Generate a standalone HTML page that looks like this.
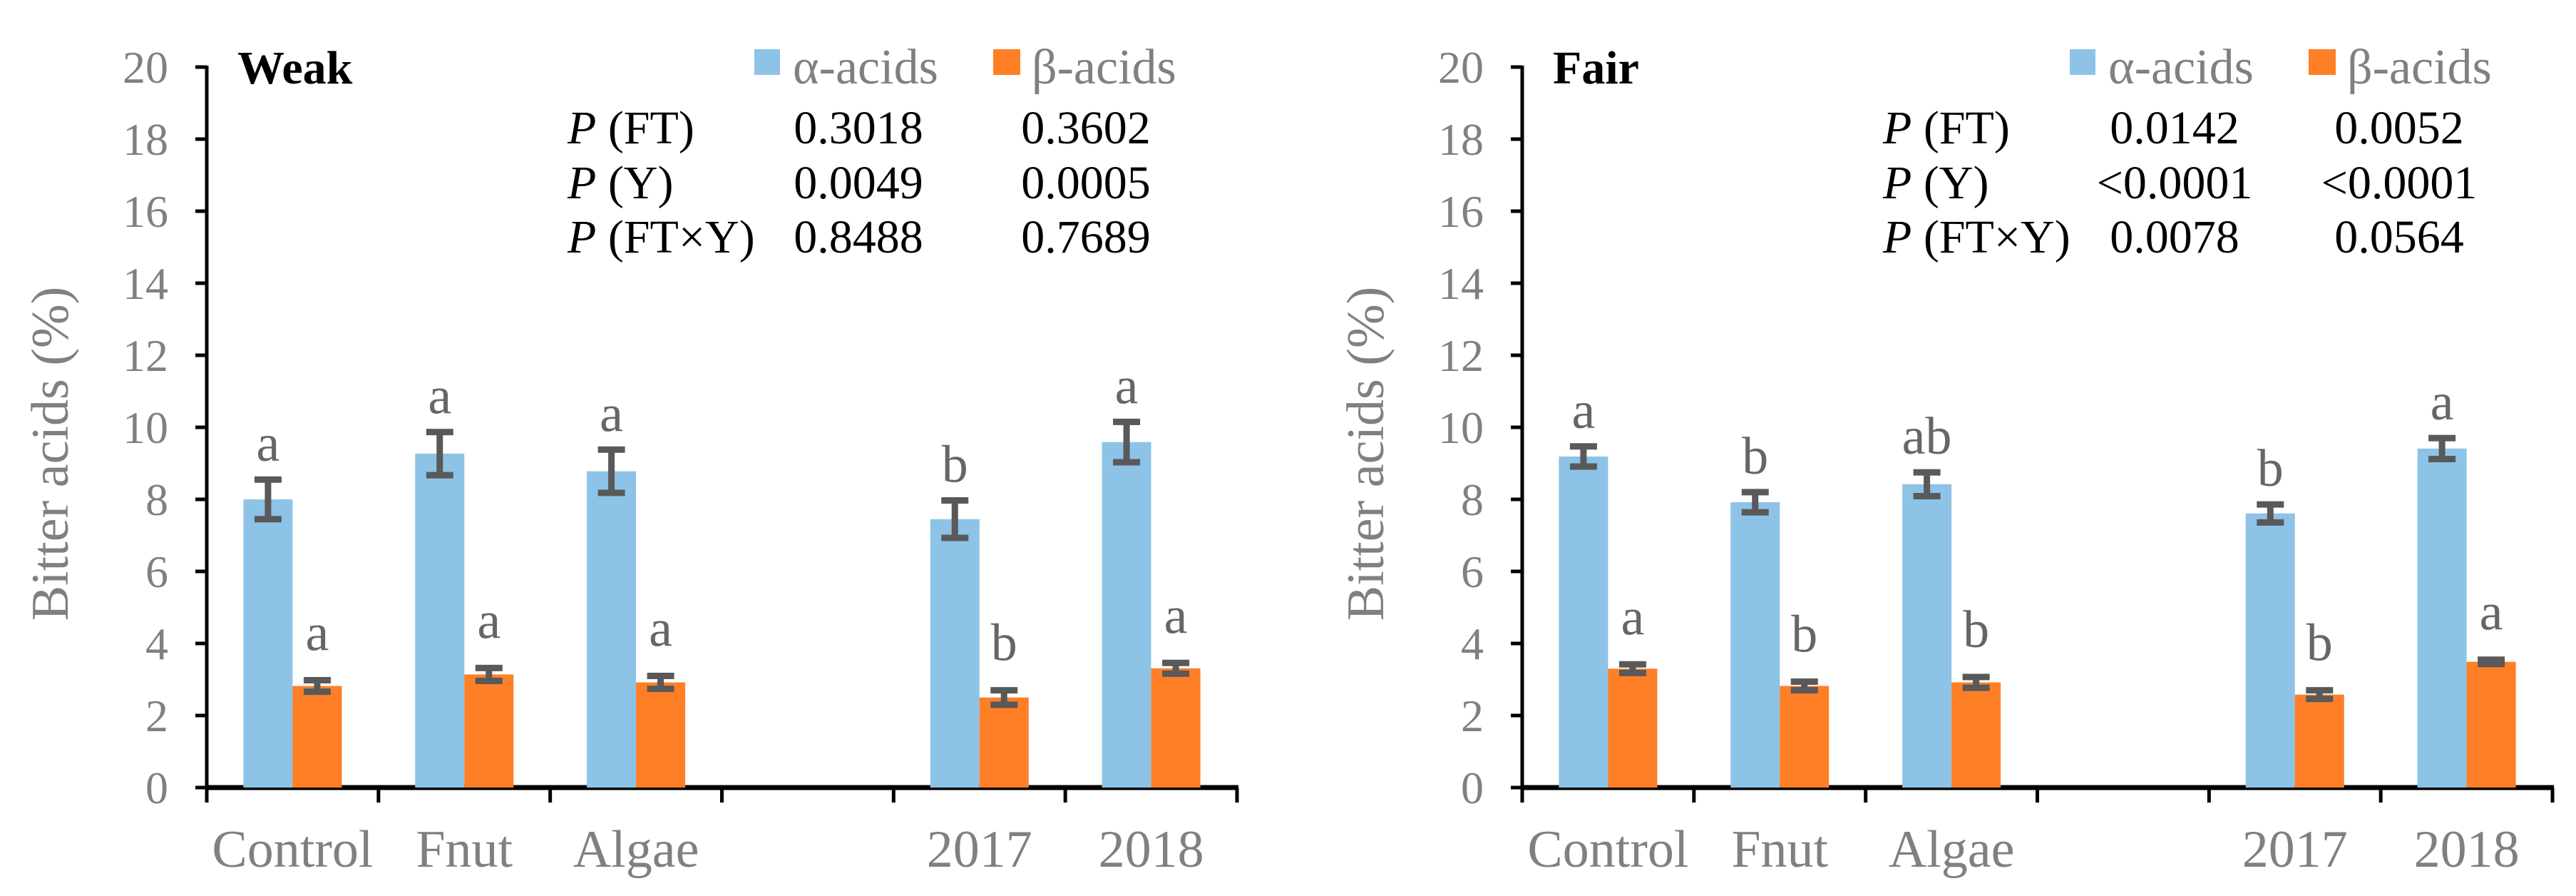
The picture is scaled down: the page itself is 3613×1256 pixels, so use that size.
<!DOCTYPE html>
<html><head><meta charset="utf-8"><style>
html,body{margin:0;padding:0;background:#fff}
svg{display:block}
svg text, svg tspan{font-family:"Liberation Serif","DejaVu Serif",serif !important}
</style></head><body>
<svg id="chart" width="3613" height="1256" viewBox="0 0 3613 1256" font-family="Liberation Serif, serif" xmlns="http://www.w3.org/2000/svg"></svg>
<script>
const categories = ["Control","Fnut","Algae","","2017","2018"];
const yTicks = [0,2,4,6,8,10,12,14,16,18,20];
const weakAlpha = [8.0,9.27,8.78,null,7.45,9.59];
const weakAlphaErr = [0.55,0.6,0.6,null,0.52,0.56];
const weakBeta = [2.82,3.14,2.92,null,2.5,3.31];
const weakBetaErr = [0.16,0.18,0.18,null,0.2,0.15];
const weakAlphaLetters = ["a","a","a","","b","a"];
const weakBetaLetters = ["a","a","a","","b","a"];
const fairAlpha = [9.19,7.92,8.42,null,7.61,9.41];
const fairAlphaErr = [0.28,0.28,0.33,null,0.25,0.29];
const fairBeta = [3.30,2.82,2.92,null,2.58,3.49];
const fairBetaErr = [0.12,0.12,0.15,null,0.12,0.06];
const fairAlphaLetters = ["a","b","ab","","b","a"];
const fairBetaLetters = ["a","b","b","","b","a"];
const weakP = [["(FT)","0.3018","0.3602"],["(Y)","0.0049","0.0005"],["(FT×Y)","0.8488","0.7689"]];
const fairP = [["(FT)","0.0142","0.0052"],["(Y)","<0.0001","<0.0001"],["(FT×Y)","0.0078","0.0564"]];

const NS="http://www.w3.org/2000/svg";
const svg=document.getElementById('chart');
function mk(tag,attrs,parent,txt){const e=document.createElementNS(NS,tag);for(const k in attrs)e.setAttribute(k,attrs[k]);if(tag==='text')e.setAttribute('font-family','Liberation Serif, serif');if(txt!==undefined)e.textContent=txt;(parent||svg).appendChild(e);return e;}

function panel(cfg){
  const g=mk('g',{});
  
  
  const x0=cfg.x0, x1=x0+1445, yTop=94, yBot=1104;
  const y=v=>yBot-(v/20)*(yBot-yTop);
  const bw=(x1-x0)/categories.length;
  const cx=i=>x0+bw*(i+0.5);
  const barW=69;
  const ya=mk('line',{x1:x0,y1:yTop-2,x2:x0,y2:yBot,stroke:'#000','stroke-width':5},g);
  
  
  yTicks.forEach(t=>{
    const tk=mk('line',{x1:x0-16,y1:y(t),x2:x0,y2:y(t),stroke:'#000','stroke-width':5},g);
    
    
    const tl=mk('text',{x:x0-54,y:y(t)+22,'text-anchor':'end','font-size':64,fill:'#808080'},g,String(t));
    
    
  });
  const xa=mk('line',{x1:x0-2,y1:yBot,x2:x1+2,y2:yBot,stroke:'#000','stroke-width':7},g);
  
  
  for(let i=0;i<=categories.length;i++){
    const tx=x0+bw*i;
    const tk=mk('line',{x1:tx,y1:yBot,x2:tx,y2:1125,stroke:'#000','stroke-width':5},g);
    
    
  }
  categories.forEach((c,i)=>{
    if(!c)return;
    const t=mk('text',{x:cx(i),y:1215,'text-anchor':'middle','font-size':74,fill:'#808080'},g,c);
    
    
  });
  const yt=mk('text',{x:0,y:0,'text-anchor':'middle','font-size':74,fill:'#808080',transform:`translate(${x0-195},636) rotate(-90)`},g,'Bitter acids (%)');
  
  
  function series(vals,errs,letters,color,off,lblOff,nm){
    vals.forEach((v,i)=>{
      if(v===null)return;
      const bx=cx(i)+off;
      const b=mk('rect',{x:bx,y:y(v),width:barW,height:yBot-y(v),fill:color},g);
      
      
      const ex=bx+barW/2, et=y(v+errs[i]), eb=y(v-errs[i]);
      const eg=mk('g',{stroke:'#595959','stroke-width':9},g);
      
      
      mk('line',{x1:ex,y1:et,x2:ex,y2:eb},eg);
      mk('line',{x1:ex-19,y1:et,x2:ex+19,y2:et},eg);
      mk('line',{x1:ex-19,y1:eb,x2:ex+19,y2:eb},eg);
      const l=mk('text',{x:ex,y:et-lblOff,'text-anchor':'middle','font-size':74,fill:'#666'},g,letters[i]);
      
      
    });
  }
  series(cfg.alpha,cfg.alphaErr,cfg.alphaL,'#8DC3E6',-barW,26,'alpha-acids');
  series(cfg.beta,cfg.betaErr,cfg.betaL,'#FF7F27',0,42,'beta-acids');
  const tt=mk('text',{x:x0+43,y:117,'font-size':66,'font-weight':'bold',fill:'#000'},g,cfg.title);
  
  
  const lg=mk('g',{},g);
  
  
  const le1=mk('g',{},lg);
  
  
  mk('rect',{x:x0+768,y:69,width:36,height:36,fill:'#8DC3E6'},le1);
  mk('text',{x:x0+822,y:117,'font-size':70,fill:'#808080'},le1,'α-acids');
  const le2=mk('g',{},lg);
  
  
  mk('rect',{x:x0+1103,y:69,width:38,height:36,fill:'#FF7F27'},le2);
  mk('text',{x:x0+1157,y:117,'font-size':70,fill:'#808080'},le2,'β-acids');
  const pt=mk('g',{'font-size':66,fill:'#000'},g);
  
  
  const rowsY=[201,278,354];
  cfg.P.forEach((r,k)=>{
    const t=mk('text',{x:x0+506,y:rowsY[k],'font-size':66},pt);
    
    
    mk('tspan',{'font-style':'italic'},t,'P');
    mk('tspan',{},t,' '+r[0]);
    const a=mk('text',{x:cfg.c1,y:rowsY[k],'text-anchor':'middle','font-size':66},pt,r[1]);
    
    
    const b=mk('text',{x:cfg.c2,y:rowsY[k],'text-anchor':'middle','font-size':66},pt,r[2]);
    
    
  });
}
panel({name:'weak',x0:290,title:'Weak',alpha:weakAlpha,alphaErr:weakAlphaErr,beta:weakBeta,betaErr:weakBetaErr,alphaL:weakAlphaLetters,betaL:weakBetaLetters,P:weakP,c1:1204,c2:1523});
panel({name:'fair',x0:2135,title:'Fair',alpha:fairAlpha,alphaErr:fairAlphaErr,beta:fairBeta,betaErr:fairBetaErr,alphaL:fairAlphaLetters,betaL:fairBetaLetters,P:fairP,c1:3050,c2:3365});
</script>
</body></html>
